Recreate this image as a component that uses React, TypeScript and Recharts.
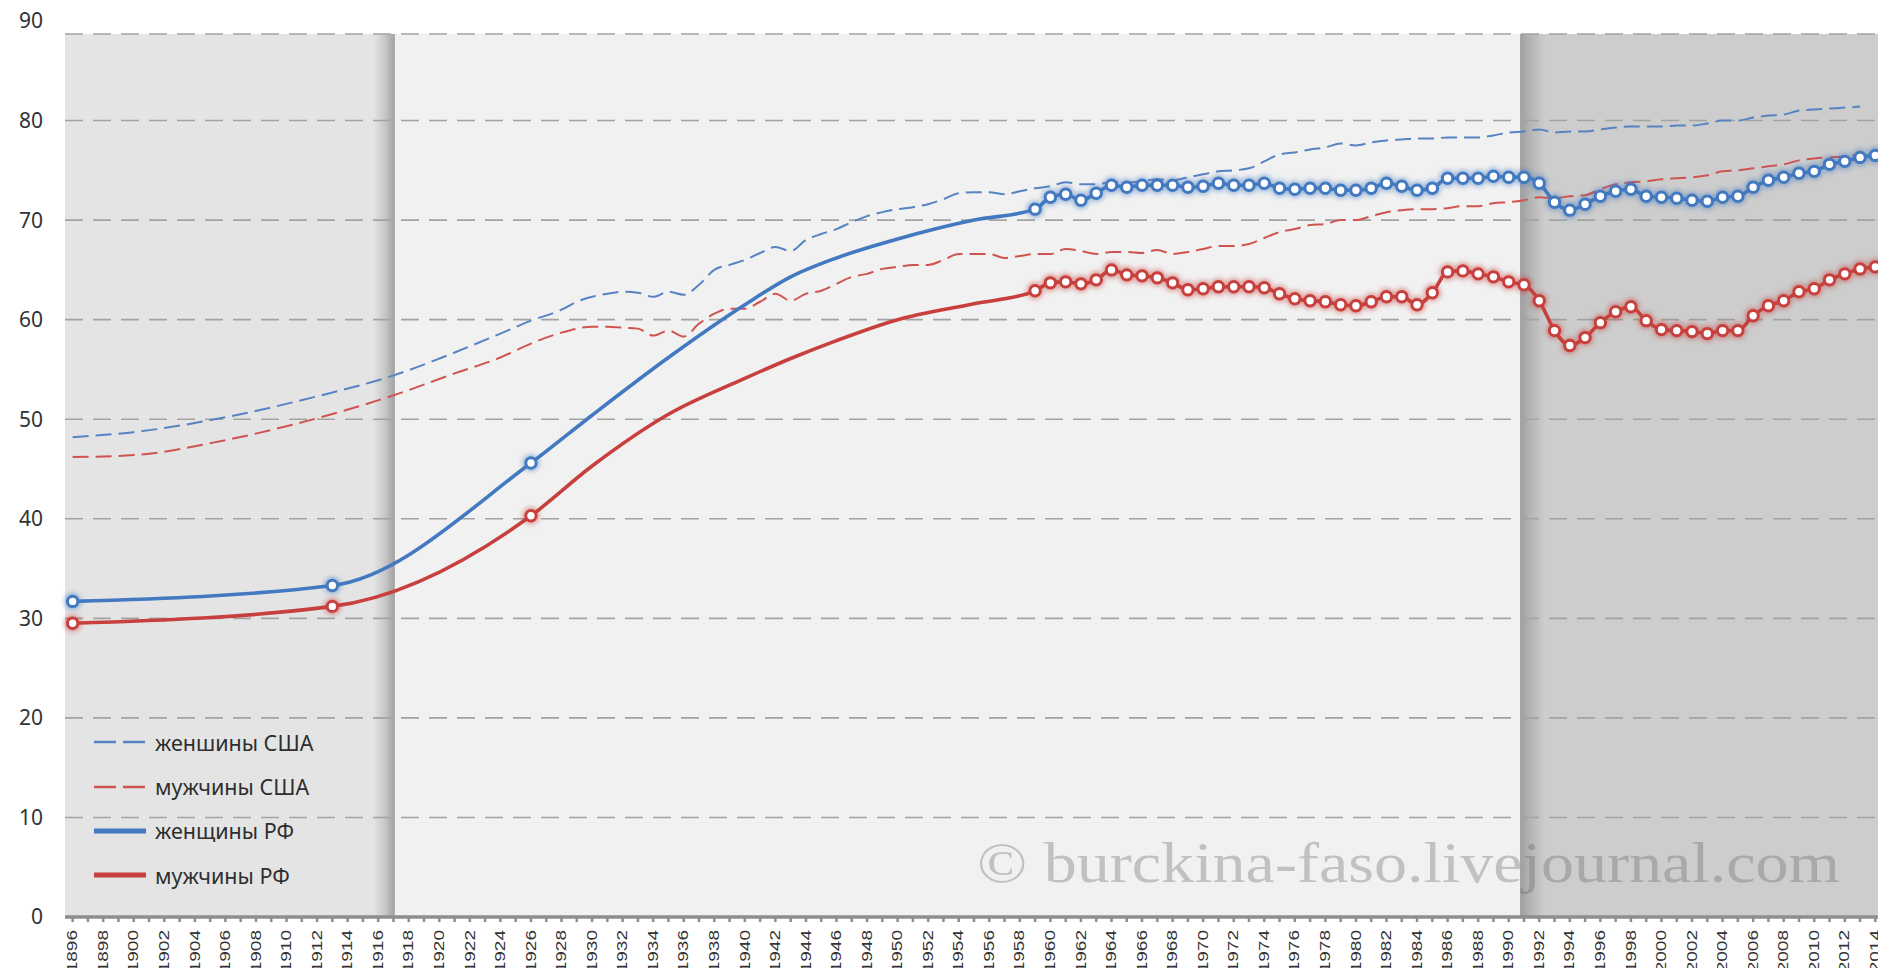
import { LineChart, Line, XAxis, YAxis, ReferenceArea, ReferenceLine, Legend } from 'recharts';

const YEARS = [
  1896, 1897, 1898, 1899, 1900, 1901, 1902, 1903, 1904, 1905, 1906, 1907, 1908, 1909, 1910, 1911, 1912, 1913, 1914, 1915,
  1916, 1917, 1918, 1919, 1920, 1921, 1922, 1923, 1924, 1925, 1926, 1927, 1928, 1929, 1930, 1931, 1932, 1933, 1934, 1935,
  1936, 1937, 1938, 1939, 1940, 1941, 1942, 1943, 1944, 1945, 1946, 1947, 1948, 1949, 1950, 1951, 1952, 1953, 1954, 1955,
  1956, 1957, 1958, 1959, 1960, 1961, 1962, 1963, 1964, 1965, 1966, 1967, 1968, 1969, 1970, 1971, 1972, 1973, 1974, 1975,
  1976, 1977, 1978, 1979, 1980, 1981, 1982, 1983, 1984, 1985, 1986, 1987, 1988, 1989, 1990, 1991, 1992, 1993, 1994, 1995,
  1996, 1997, 1998, 1999, 2000, 2001, 2002, 2003, 2004, 2005, 2006, 2007, 2008, 2009, 2010, 2011, 2012, 2013, 2014,
];
const Y_TICKS = [0, 10, 20, 30, 40, 50, 60, 70, 80, 90];

// USA: sparse points before 1928 (smooth curve), yearly from 1928 to 2013
const US_SPARSE_YEARS = [1896, 1900, 1906, 1912, 1917, 1921, 1924, 1926];
const US_WOMEN_SPARSE = [48.2, 48.7, 50.2, 52.3, 54.4, 56.7, 58.6, 59.9];
const US_MEN_SPARSE = [46.2, 46.4, 47.9, 50.1, 52.4, 54.6, 56.2, 57.6];
const US_ANNUAL_FROM = 1928;
const US_WOMEN_ANNUAL = [
  61.0, 61.8, 62.3, 62.6, 62.8, 62.7, 62.3, 62.8, 62.5, 63.5,
  65.0, 65.5, 66.0, 66.7, 67.3, 66.9, 68.0, 68.6, 69.1, 69.8,
  70.4, 70.8, 71.1, 71.3, 71.6, 72.1, 72.7, 72.8, 72.8, 72.6,
  72.9, 73.2, 73.4, 73.8, 73.6, 73.6, 73.8, 73.8, 73.9, 74.1,
  74.0, 74.3, 74.6, 74.9, 75.0, 75.2, 75.9, 76.6, 76.8, 77.1,
  77.3, 77.7, 77.5, 77.8, 78.0, 78.1, 78.2, 78.2, 78.3, 78.3,
  78.3, 78.5, 78.8, 78.9, 79.1, 78.8, 78.9, 78.9, 79.1, 79.3,
  79.4, 79.4, 79.4, 79.5, 79.5, 79.7, 80.0, 80.0, 80.3, 80.5,
  80.6, 81.0, 81.1, 81.2, 81.3, 81.4,
];
const US_MEN_ANNUAL = [
  58.7, 59.1, 59.3, 59.3, 59.2, 59.1, 58.4, 58.9, 58.3, 59.6,
  60.6, 61.1, 61.1, 61.8, 62.6, 61.9, 62.6, 62.9, 63.6, 64.3,
  64.6, 65.1, 65.3, 65.5, 65.5, 66.0, 66.6, 66.6, 66.6, 66.2,
  66.4, 66.6, 66.6, 67.1, 66.9, 66.6, 66.8, 66.8, 66.7, 67.0,
  66.6, 66.8, 67.1, 67.4, 67.4, 67.6, 68.2, 68.8, 69.1, 69.5,
  69.6, 70.0, 70.0, 70.4, 70.8, 71.0, 71.1, 71.1, 71.2, 71.4,
  71.4, 71.7, 71.8, 72.0, 72.3, 72.2, 72.4, 72.5, 73.1, 73.6,
  73.8, 73.9, 74.1, 74.2, 74.3, 74.5, 74.9, 75.0, 75.2, 75.4,
  75.6, 76.0, 76.2, 76.3, 76.4, 76.6,
];

// Russia: marked points 1896, 1913, 1926, unmarked curve to 1959, then yearly marked
const RF_EARLY_YEARS = [1896, 1913, 1926];
const RF_WOMEN_EARLY = [31.7, 33.3, 45.6];
const RF_MEN_EARLY = [29.5, 31.2, 40.3];
const RF_CURVE_YEARS = [1930, 1935, 1940, 1943, 1946, 1950, 1955];
const RF_WOMEN_CURVE = [50.4, 56.2, 61.5, 64.3, 66.2, 68.1, 70.0];
const RF_MEN_CURVE = [45.3, 50.5, 54.1, 56.1, 57.9, 60.0, 61.6];
const RF_ANNUAL_FROM = 1959;
const RF_WOMEN_ANNUAL = [
  71.1, 72.3, 72.6, 72.0, 72.7, 73.5, 73.3, 73.5, 73.5, 73.5,
  73.3, 73.4, 73.7, 73.5, 73.5, 73.7, 73.2, 73.1, 73.2, 73.2,
  73.0, 73.0, 73.2, 73.7, 73.4, 73.0, 73.2, 74.2, 74.2, 74.2,
  74.4, 74.3, 74.3, 73.7, 71.8, 71.0, 71.6, 72.4, 72.9, 73.1,
  72.4, 72.3, 72.2, 72.0, 71.9, 72.3, 72.4, 73.3, 74.0, 74.3,
  74.7, 74.9, 75.6, 75.9, 76.3, 76.5,
];
const RF_MEN_ANNUAL = [
  62.9, 63.7, 63.8, 63.6, 64.0, 65.0, 64.5, 64.4, 64.2, 63.7,
  63.0, 63.1, 63.3, 63.3, 63.3, 63.2, 62.6, 62.1, 61.9, 61.8,
  61.5, 61.4, 61.8, 62.3, 62.3, 61.5, 62.7, 64.8, 64.9, 64.6,
  64.3, 63.8, 63.5, 61.9, 58.9, 57.4, 58.2, 59.7, 60.8, 61.3,
  59.9, 59.0, 58.9, 58.8, 58.6, 58.9, 58.9, 60.4, 61.4, 61.9,
  62.8, 63.1, 64.0, 64.6, 65.1, 65.3,
];

const US_W_COLOR = '#5683c2';
const US_M_COLOR = '#cf5451';
const RF_W_COLOR = '#4279c0';
const RF_M_COLOR = '#c8403d';

const LEGEND_ITEMS = [
  { label: 'женшины США', color: US_W_COLOR, dashed: true },
  { label: 'мужчины США', color: US_M_COLOR, dashed: true },
  { label: 'женщины РФ', color: RF_W_COLOR, dashed: false },
  { label: 'мужчины РФ', color: RF_M_COLOR, dashed: false },
];

// shading of the periods (x in years, y top of plot frame)
const X_MIN = 1895.5;
const X_MAX = 2014.5;
const PLOT_TOP = 88.7;
const LEFT_END = 1917.1;
const LEFT_STRIPE = 1915.7;
const RIGHT_START = 1990.75;
const RIGHT_STRIPE = 1992.4;

type Row = {
  year: number;
  usW: number | null;
  usM: number | null;
  rfW: number | null;
  rfM: number | null;
  marked: boolean;
};

function buildRows(): Row[] {
  const rows: Row[] = YEARS.map((year) => ({ year, usW: null, usM: null, rfW: null, rfM: null, marked: false }));
  const at = (y: number) => rows[y - YEARS[0]];
  US_SPARSE_YEARS.forEach((y, i) => {
    at(y).usW = US_WOMEN_SPARSE[i];
    at(y).usM = US_MEN_SPARSE[i];
  });
  US_WOMEN_ANNUAL.forEach((v, i) => {
    at(US_ANNUAL_FROM + i).usW = v;
    at(US_ANNUAL_FROM + i).usM = US_MEN_ANNUAL[i];
  });
  RF_EARLY_YEARS.forEach((y, i) => {
    at(y).rfW = RF_WOMEN_EARLY[i];
    at(y).rfM = RF_MEN_EARLY[i];
    at(y).marked = true;
  });
  RF_CURVE_YEARS.forEach((y, i) => {
    at(y).rfW = RF_WOMEN_CURVE[i];
    at(y).rfM = RF_MEN_CURVE[i];
  });
  RF_WOMEN_ANNUAL.forEach((v, i) => {
    const r = at(RF_ANNUAL_FROM + i);
    r.rfW = v;
    r.rfM = RF_MEN_ANNUAL[i];
    r.marked = true;
  });
  return rows;
}

const DATA = buildRows();

function makeDot(color: string) {
  return (props: any) => {
    const { cx, cy, payload, index } = props;
    if (cx == null || cy == null || !payload?.marked) return <g key={`d-${index}`} />;
    return (
      <g key={`d-${index}`}>
        <circle cx={cx} cy={cy} r={8.5} fill={color} opacity={0.5} filter="url(#markerGlow)" />
        <circle cx={cx} cy={cy} r={5.2} fill="#ffffff" stroke={color} strokeWidth={3} />
      </g>
    );
  };
}

function XTick(props: any) {
  const { x, y, payload } = props;
  if ((payload.value - YEARS[0]) % 2 !== 0) return <g />;
  return (
    <g transform={`translate(${x},${y + 6}) scale(0.75,1) rotate(-90)`}>
      <text textAnchor="end" dominantBaseline="central" fontSize={19} fill="#333" fontFamily="'Liberation Sans', Arial, sans-serif">
        {payload.value}
      </text>
    </g>
  );
}

function LegendBox() {
  return (
    <div style={{ fontFamily: "'Noto Sans', sans-serif", fontSize: 21.5, color: '#2e2e2e' }}>
      {LEGEND_ITEMS.map((it) => (
        <div key={it.label} style={{ display: 'flex', alignItems: 'center', height: 44.4 }}>
          <svg width={56} height={12}>
            <line
              x1={2}
              x2={54}
              y1={6}
              y2={6}
              stroke={it.color}
              strokeWidth={it.dashed ? 2.4 : 5}
              strokeDasharray={it.dashed ? '22 7' : undefined}
            />
          </svg>
          <span style={{ marginLeft: 7, whiteSpace: 'nowrap' }}>{it.label}</span>
        </div>
      ))}
    </div>
  );
}

export default function App() {
  return (
    <div style={{ position: 'relative', width: 1886, height: 976, margin: -8, background: '#ffffff' }}>
      <LineChart width={1886} height={976} data={DATA} margin={{ top: 21, right: 3, bottom: 0, left: 0 }}>
        <defs>
          <filter id="markerGlow" x="-60%" y="-60%" width="220%" height="220%">
            <feGaussianBlur stdDeviation="2.4" />
          </filter>
          <linearGradient id="stripeLeft" x1="0" y1="0" x2="1" y2="0">
            <stop offset="0" stopColor="#e4e4e4" />
            <stop offset="0.55" stopColor="#c6c6c6" />
            <stop offset="0.92" stopColor="#a6a6a6" />
            <stop offset="1" stopColor="#adadad" />
          </linearGradient>
          <linearGradient id="stripeRight" x1="0" y1="0" x2="1" y2="0">
            <stop offset="0" stopColor="#9e9e9e" />
            <stop offset="0.4" stopColor="#b4b4b4" />
            <stop offset="1" stopColor="#cdcdcd" />
          </linearGradient>
        </defs>
        <XAxis
          dataKey="year"
          type="number"
          domain={[X_MIN, X_MAX]}
          ticks={YEARS}
          interval={0}
          height={59}
          tickSize={5}
          tickMargin={2}
          axisLine={{ stroke: '#8e8e8e', strokeWidth: 3.5 }}
          tickLine={{ stroke: '#8e8e8e', strokeWidth: 2.5 }}
          tick={<XTick />}
        />
        <YAxis
          domain={[0, 90]}
          ticks={Y_TICKS}
          width={65}
          axisLine={false}
          tickLine={false}
          tickSize={0}
          tickMargin={22}
          tick={{ fill: '#333', fontSize: 21, fontFamily: "'Noto Sans', sans-serif" }}
        />
        <ReferenceArea x1={X_MIN} x2={X_MAX} y1={0} y2={PLOT_TOP} fill="#f1f1f1" fillOpacity={1} stroke="none" />
        <ReferenceArea x1={X_MIN} x2={LEFT_END} y1={0} y2={PLOT_TOP} fill="#e4e4e4" fillOpacity={1} stroke="none" />
        <ReferenceArea x1={LEFT_STRIPE} x2={LEFT_END} y1={0} y2={PLOT_TOP} fill="url(#stripeLeft)" fillOpacity={1} stroke="none" />
        <ReferenceArea x1={RIGHT_START} x2={X_MAX} y1={0} y2={PLOT_TOP} fill="#cdcdcd" fillOpacity={1} stroke="none" />
        <ReferenceArea x1={RIGHT_START} x2={RIGHT_STRIPE} y1={0} y2={PLOT_TOP} fill="url(#stripeRight)" fillOpacity={1} stroke="none" />
        {[...Y_TICKS.slice(1, -1), PLOT_TOP].map((v) => (
          <ReferenceLine key={v} y={v} stroke="#a3a3a3" strokeWidth={1.6} strokeDasharray="18 10" />
        ))}
        <Line
          dataKey="usW"
          type="monotone"
          connectNulls
          stroke={US_W_COLOR}
          strokeWidth={2}
          strokeDasharray="16 7"
          dot={false}
          activeDot={false}
          isAnimationActive={false}
        />
        <Line
          dataKey="usM"
          type="monotone"
          connectNulls
          stroke={US_M_COLOR}
          strokeWidth={2}
          strokeDasharray="16 7"
          dot={false}
          activeDot={false}
          isAnimationActive={false}
        />
        <Line
          dataKey="rfW"
          type="monotone"
          connectNulls
          stroke={RF_W_COLOR}
          strokeWidth={3.6}
          dot={makeDot(RF_W_COLOR)}
          activeDot={false}
          isAnimationActive={false}
        />
        <Line
          dataKey="rfM"
          type="monotone"
          connectNulls
          stroke={RF_M_COLOR}
          strokeWidth={3.6}
          dot={makeDot(RF_M_COLOR)}
          activeDot={false}
          isAnimationActive={false}
        />
        <Legend
          layout="vertical"
          verticalAlign="middle"
          align="center"
          content={<LegendBox />}
          wrapperStyle={{ left: 92, top: 720, width: 320, height: 180 }}
        />
      </LineChart>
      <svg width={1886} height={976} style={{ position: 'absolute', left: 0, top: 0, pointerEvents: 'none' }}>
        <text
          x={977}
          y={882}
          textLength={863}
          lengthAdjust="spacingAndGlyphs"
          fontSize={58}
          fontFamily="'Liberation Serif', serif"
          fill="#606060"
          fillOpacity={0.33}
        >
          © burckina-faso.livejournal.com
        </text>
      </svg>
    </div>
  );
}
